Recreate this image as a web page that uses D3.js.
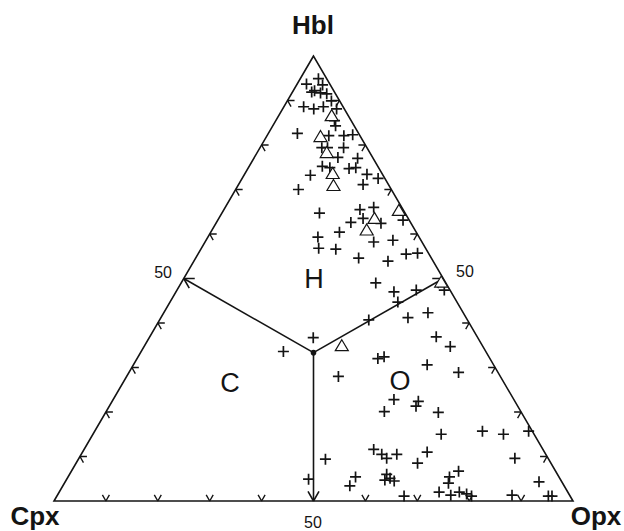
<!DOCTYPE html>
<html>
<head>
<meta charset="utf-8">
<script src="https://cdn.jsdelivr.net/npm/d3@7"></script>
<style>
  body { margin: 0; background: #fff; }
  svg { display: block; font-family: "Liberation Sans", Arial, sans-serif; }
</style>
</head>
<body>
<div class="canvas"></div>
<script>
// Corner names and the tick values along each side (percent)
const corners = ["Hbl", "Cpx", "Opx"]
const tickValues = [10, 20, 30, 40, 60, 70, 80, 90]
const fieldNames = ["H", "C", "O"]

// Samples plotted as "+" : [Hbl, Opx] in percent, Cpx is the rest
const plusData = [
  [94.9, 3.5], [93.7, 1.8], [93.5, 5.0], [92.2, 4.1], [91.7, 5.5], [91.5, 6.8],
  [91.9, 3.7], [88.6, 3.8], [88.1, 6.0], [88.6, 7.6], [89.9, 8.5], [88.1, 10.4],
  [85.5, 11.3], [84.3, 12.1], [82.6, 5.6], [82.1, 11.9], [82.1, 14.8], [82.3, 16.4],
  [79.4, 11.9], [79.4, 13.0], [79.4, 16.1], [77.2, 16.1], [77.0, 20.0], [75.2, 14.1],
  [74.9, 15.7], [74.7, 19.5], [74.9, 20.7], [73.2, 12.8], [73.4, 23.6], [72.5, 26.2],
  [71.1, 24.0], [70.0, 12.1], [64.7, 18.8], [65.5, 26.2], [66.0, 28.6], [63.5, 27.8],
  [62.6, 25.9], [62.4, 31.8], [63.1, 35.7], [60.4, 24.8], [59.3, 21.2], [58.2, 32.5],
  [58.6, 36.0], [56.8, 22.6], [56.6, 26.0], [54.6, 31.4], [53.9, 37.4], [55.5, 40.1],
  [55.7, 42.2], [49.0, 37.5], [47.0, 42.0], [47.4, 46.1], [44.7, 43.9], [47.4, 51.5],
  [40.7, 40.3], [41.2, 47.6], [42.3, 50.9], [36.7, 31.6], [33.6, 27.4], [36.9, 55.2],
  [34.7, 59.0], [32.0, 46.4], [32.4, 47.4], [30.6, 56.6], [28.0, 40.8], [28.9, 63.5],
  [22.8, 54.1], [22.4, 59.0], [21.3, 59.1], [20.1, 53.6], [19.9, 64.1], [15.0, 67.1],
  [15.7, 74.7], [15.0, 79.1], [15.7, 83.6], [11.6, 55.8], [10.5, 57.9], [9.6, 59.3],
  [10.5, 60.8], [11.0, 66.4], [8.5, 65.8], [9.6, 84.0], [9.4, 47.6], [4.9, 46.6],
  [5.4, 55.4], [3.4, 55.3], [6.0, 61.1], [5.1, 62.2], [4.7, 61.4], [4.5, 63.3],
  [6.7, 74.6], [5.4, 73.5], [4.0, 74.0], [2.0, 73.2], [1.3, 75.8], [2.0, 77.1],
  [1.6, 78.7], [1.1, 79.9], [1.1, 66.9], [1.3, 87.6], [4.3, 91.3], [1.1, 94.7],
  [1.1, 95.4]
]

// Samples plotted as open triangles : [Hbl, Opx]
const triData = [
  [86.6, 10.2], [81.9, 10.4], [78.3, 13.4], [73.6, 16.9], [70.9, 18.4],
  [65.3, 33.8], [63.5, 30.0], [60.9, 29.8], [49.2, 50.0], [34.9, 38.0]
]

const wWidth = 624
const wHeight = 531

const svg = d3.select('.canvas')
    .append('svg')
    .attr('width', wWidth)
    .attr('height', wHeight)

// x follows Opx + Hbl/2, y follows Hbl
const xScale = d3.scaleLinear().domain([0, 100]).range([54, 573])
const yScale = d3.scaleLinear().domain([0, 100]).range([501, 56])
const proj = (hbl, opx) => [xScale(opx + hbl / 2), yScale(hbl)]

const ink = '#141414'

// Outline of the triangle
const outline = [proj(100, 0), proj(0, 0), proj(0, 100)]
svg.append('path')
    .attr('d', d3.line()(outline) + 'Z')
    .attr('fill', 'none')
    .attr('stroke', ink)
    .attr('stroke-width', 1.6)
    .attr('stroke-linejoin', 'miter')

// Two short strokes along the grid directions at a point of a side
const s3 = Math.sqrt(3) / 2
function mark(p, dirs, len) {
  return dirs.map(d => `M${p[0]},${p[1]}l${d[0] * len},${d[1] * len}`).join('')
}
const leftDirs = [[1, 0], [0.5, s3]]
const rightDirs = [[-1, 0], [-0.5, s3]]
const bottomDirs = [[-0.5, -s3], [0.5, -s3]]

const tickGroup = svg.append('g')
    .attr('fill', 'none')
    .attr('stroke', ink)
    .attr('stroke-width', 1.4)

tickValues.forEach(v => {
  tickGroup.append('path').attr('d', mark(proj(v, 0), leftDirs, 7))
  tickGroup.append('path').attr('d', mark(proj(v, 100 - v), rightDirs, 7))
  tickGroup.append('path').attr('d', mark(proj(0, v), bottomDirs, 7))
})

// Field boundaries from the centre to the middle of each side
const centre = proj(100 / 3, 100 / 3)
const mids = [
  {p: proj(50, 0), dirs: leftDirs},
  {p: proj(50, 50), dirs: rightDirs},
  {p: proj(0, 50), dirs: bottomDirs}
]
mids.forEach(m => {
  svg.append('line')
      .attr('x1', centre[0]).attr('y1', centre[1])
      .attr('x2', m.p[0]).attr('y2', m.p[1])
      .attr('stroke', ink)
      .attr('stroke-width', 1.6)
  svg.append('path')
      .attr('d', mark(m.p, m.dirs, 11))
      .attr('fill', 'none')
      .attr('stroke', ink)
      .attr('stroke-width', 1.6)
})
svg.append('circle')
    .attr('cx', centre[0]).attr('cy', centre[1])
    .attr('r', 2.8)
    .attr('fill', ink)

// Plus markers
svg.append('g')
    .selectAll('path')
    .data(plusData)
    .enter()
    .append('path')
    .attr('d', d => {
      const [x, y] = proj(d[0], d[1])
      return `M${x - 5.5},${y}h11M${x},${y - 5.5}v11`
    })
    .attr('stroke', ink)
    .attr('stroke-width', 1.7)
    .attr('fill', 'none')

// Triangle markers
svg.append('g')
    .selectAll('path')
    .data(triData)
    .enter()
    .append('path')
    .attr('d', d => {
      const [x, y] = proj(d[0], d[1])
      return `M${x},${y - 6}L${x + 6.5},${y + 5}L${x - 6.5},${y + 5}Z`
    })
    .attr('stroke', ink)
    .attr('stroke-width', 1.2)
    .attr('fill', 'white')

// Corner labels
const cornerPos = [[313, 34], [35, 525], [596, 525]]
svg.selectAll('text.corner')
    .data(corners)
    .enter()
    .append('text')
    .attr('class', 'corner')
    .attr('x', (d, i) => cornerPos[i][0])
    .attr('y', (d, i) => cornerPos[i][1])
    .attr('text-anchor', 'middle')
    .attr('font-size', 26)
    .attr('font-weight', 'bold')
    .attr('fill', ink)
    .text(d => d)

// "50" labels
const fifty = [[172, 278, 'end'], [456, 277, 'start'], [313, 528, 'middle']]
fifty.forEach(f => {
  svg.append('text')
      .attr('x', f[0]).attr('y', f[1])
      .attr('text-anchor', f[2])
      .attr('font-size', 16)
      .attr('fill', ink)
      .text('50')
})

// Field labels
const fieldPos = [[314, 288], [230, 392], [400, 390]]
svg.selectAll('text.field')
    .data(fieldNames)
    .enter()
    .append('text')
    .attr('class', 'field')
    .attr('x', (d, i) => fieldPos[i][0])
    .attr('y', (d, i) => fieldPos[i][1])
    .attr('text-anchor', 'middle')
    .attr('font-size', 27)
    .attr('fill', ink)
    .text(d => d)
</script>
</body>
</html>
